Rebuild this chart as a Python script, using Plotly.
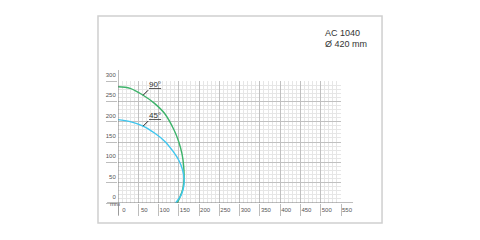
import plotly.graph_objects as go

# Data
x_90 = [0, 30, 62, 90, 115, 138, 150, 158, 162, 163, 160, 153, 146]
y_90 = [286, 282, 265, 245, 220, 180, 150, 120, 90, 62, 35, 15, 0]
x_45 = [0, 30, 62, 90, 115, 135, 150, 159, 163, 162, 156, 148, 142]
y_45 = [205, 200, 189, 172, 152, 128, 105, 82, 60, 40, 20, 8, 0]
x_ticks = [0, 50, 100, 150, 200, 250, 300, 350, 400, 450, 500, 550]
y_ticks = [0, 50, 100, 150, 200, 250, 300]
title_lines = ["AC 1040", "Ø 420 mm"]
curve_labels = ["90°", "45°"]
label_points = [(62, 265), (62, 189)]

GREEN = "#3db36a"
BLUE = "#3fc6ee"

fig = go.Figure()
fig.add_trace(go.Scatter(x=x_90, y=y_90, mode="lines", line=dict(color=GREEN, width=1.4, shape="spline", smoothing=1.0), hoverinfo="skip"))
fig.add_trace(go.Scatter(x=x_45, y=y_45, mode="lines", line=dict(color=BLUE, width=1.4, shape="spline", smoothing=1.0), hoverinfo="skip"))

axis_common = dict(showline=False, zeroline=False, ticks="outside", tickcolor="#bdbdbd", tickwidth=1,
                   gridcolor="#c0c0c0", gridwidth=1,
                   tickfont=dict(family="Liberation Sans, Arial", size=6, color="#555"),
                   minor=dict(dtick=10, showgrid=True, gridcolor="#e6e6e6", gridwidth=1, ticks=""))

fig.update_xaxes(range=[0, 550], tickvals=x_ticks, ticktext=[str(v) for v in x_ticks], ticklen=12,
                 ticklabelshift=6, ticklabelstandoff=-11, **axis_common)
fig.update_yaxes(range=[0, 300], tickvals=y_ticks, ticktext=[str(v) for v in y_ticks], ticklen=11,
                 ticklabelshift=-6, ticklabelstandoff=-11, **axis_common)

# axis lines (extended past the grid)
fig.add_shape(type="line", xref="x domain", yref="y", x0=-0.049, x1=1.054, y0=0, y1=0, line=dict(color="#7a7a7a", width=1))
fig.add_shape(type="line", xref="x", yref="y domain", x0=0, x1=0, y0=-0.098, y1=1.09, line=dict(color="#7a7a7a", width=1))

# frame
fig.add_shape(type="rect", xref="paper", yref="paper", x0=-0.0897, x1=1.184, y0=-0.164, y1=1.533,
              line=dict(color="#cfcfcf", width=1.5), fillcolor="rgba(0,0,0,0)")

for txt, (px, py) in zip(curve_labels, label_points):
    fig.add_annotation(x=px, y=py, xref="x", yref="y", text='<span style="text-decoration:underline">' + txt + '</span>',
                       showarrow=True, arrowhead=0, arrowwidth=1, arrowcolor="#222", ax=5, ay=-5, standoff=0,
                       font=dict(family="Liberation Sans, Arial", size=8, color="#333"), xanchor="left", yanchor="bottom",
                       borderpad=0)

fig.add_annotation(x=-0.046, y=-0.048, xref="paper", yref="paper", text="mm", showarrow=False,
                   font=dict(family="Liberation Sans, Arial", size=6, color="#555"))
for i, t in enumerate(title_lines):
    fig.add_annotation(x=0.919, y=1.393 - i * 0.09, xref="paper", yref="paper", text=t, showarrow=False,
                       xanchor="left", yanchor="middle",
                       font=dict(family="Liberation Sans, Arial", size=9, color="#333"))

fig.update_layout(width=480, height=240, margin=dict(l=118, r=139, t=81, b=37),
                  paper_bgcolor="white", plot_bgcolor="white", showlegend=False)

fig.write_html("out.html")
